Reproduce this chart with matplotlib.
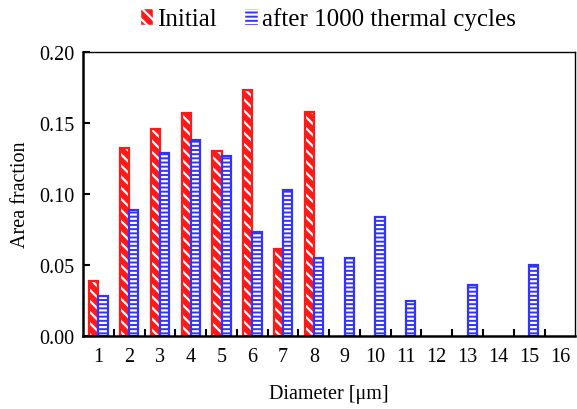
import matplotlib
matplotlib.use("Agg")
import matplotlib.pyplot as plt
import numpy as np
from matplotlib.patches import Patch

plt.rcParams["font.family"] = ["Liberation Serif", "DejaVu Serif"]
plt.rcParams["hatch.linewidth"] = 1.6

diameters = list(range(1, 17))
initial = [0.039, 0.132, 0.146, 0.157, 0.130, 0.173, 0.061, 0.158,
           0, 0, 0, 0, 0, 0, 0, 0]
after_cycles = [0.028, 0.089, 0.129, 0.138, 0.127, 0.073, 0.103, 0.055,
                0.055, 0.084, 0.025, 0, 0.036, 0, 0.050, 0]
y_ticks = [0.00, 0.05, 0.10, 0.15, 0.20]

red = "#ff1a1a"
blue = "#3333ff"

fig = plt.figure(figsize=(5.77, 4.10), dpi=100)
ax = fig.add_axes([0.144, 0.178, 0.853, 0.693])

x = np.array(diameters)
w = 0.3
mask_i = np.array(initial) > 0
mask_a = np.array(after_cycles) > 0

xi = x[mask_i] - w / 2
vi = np.array(initial)[mask_i]
xa = x[mask_a] + w / 2
va = np.array(after_cycles)[mask_a]

# filled bar, white hatch on top, then coloured outline
ax.bar(xi, vi, w, color=red, edgecolor="none", linewidth=0)
ax.bar(xi, vi, w, fill=False, edgecolor="white", hatch="\\\\\\", linewidth=0)
ax.bar(xi, vi, w, fill=False, edgecolor=red, linewidth=1.6)

ax.bar(xa, va, w, color=blue, edgecolor="none", linewidth=0)
ax.bar(xa, va, w, fill=False, edgecolor="white", hatch="----", linewidth=0)
ax.bar(xa, va, w, fill=False, edgecolor=blue, linewidth=1.6)

ax.set_xlim(0.5, 16.5)
ax.set_ylim(0, 0.20)
ax.set_xticks(x)
ax.set_xticklabels([str(d) for d in diameters])
ax.set_xticks(np.arange(1.5, 16.5, 1), minor=True)
ax.tick_params(axis="x", which="major", length=0, pad=8, labelsize=14.5)
ax.tick_params(axis="x", which="minor", direction="in", length=5, width=1.5)
ax.set_yticks(y_ticks)
ax.set_yticklabels([f"{v:.2f}" for v in y_ticks])
ax.tick_params(axis="y", direction="in", length=5, width=1.5, labelsize=14.5, pad=6)

for side in ["top", "right"]:
    ax.spines[side].set_linewidth(1.0)
for side in ["left", "bottom"]:
    ax.spines[side].set_linewidth(1.8)

ax.set_xlabel("Diameter [μm]", fontsize=14.5, labelpad=13)
ax.set_ylabel("Area fraction", fontsize=14.5, labelpad=7)

handles = [
    Patch(facecolor=red, edgecolor="white", hatch="\\\\\\"),
    Patch(facecolor=blue, edgecolor="white", hatch="----"),
]
fig.legend(handles, ["Initial", "after 1000 thermal cycles"], loc="upper center",
           bbox_to_anchor=(0.568, 1.035), ncol=2, frameon=False, fontsize=18,
           handlelength=0.55, handleheight=0.7, handletextpad=0.15, columnspacing=1.1)

fig.savefig("out.png", dpi=100)
